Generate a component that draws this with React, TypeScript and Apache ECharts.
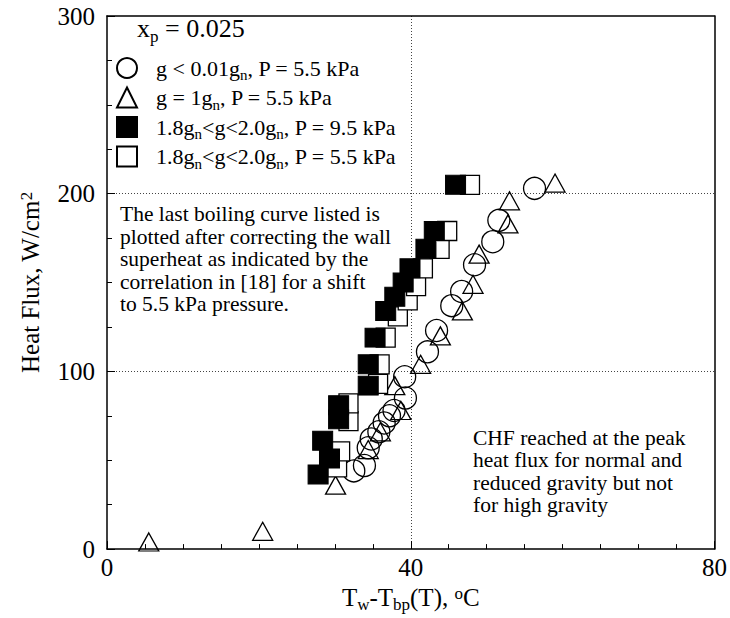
import React, { useEffect, useRef } from 'react';
import * as echarts from 'echarts';

const FONT = '"Liberation Serif", "Times New Roman", serif';

// Reduced gravity (g < 0.01 g_n), P = 5.5 kPa
const circles: [number, number][] = [
  [32.5, 44], [33.9, 47], [34.4, 57], [34.8, 62], [35.8, 66], [36.5, 71], [37.2, 75],
  [37.8, 78], [39.3, 85], [39.2, 97], [42.2, 111], [43.4, 123], [45.4, 137], [46.7, 145],
  [48.4, 160], [50.8, 173], [51.6, 185], [56.3, 203],
];
// Normal gravity (g = 1 g_n), P = 5.5 kPa
const triangles: [number, number][] = [
  [5.5, 4], [20.5, 10], [30.1, 36], [34.4, 56], [36.0, 66], [38.7, 78], [37.9, 92],
  [41.3, 104], [43.9, 120], [46.8, 134], [48.2, 149], [49.0, 166], [52.8, 183], [53.0, 196],
  [59.0, 206],
];
// High gravity, P = 9.5 kPa
const filledSquares: [number, number][] = [
  [27.8, 42], [29.3, 51], [28.4, 61], [30.5, 73], [30.5, 81], [34.4, 92], [34.4, 104],
  [35.3, 119], [36.7, 134], [37.9, 142], [39.0, 150], [39.9, 158], [42.0, 169], [43.1, 179],
  [45.9, 205],
];
// High gravity, corrected to P = 5.5 kPa
const openSquares: [number, number][] = [
  [30.3, 46], [30.7, 55], [31.8, 72], [31.8, 82], [35.7, 93], [35.9, 104], [36.7, 119],
  [38.3, 131], [39.6, 140], [40.7, 148], [41.6, 158], [43.8, 169], [44.8, 179], [47.8, 205],
];

const xRange = [0, 80];
const xStep = 40;
const yRange = [0, 300];
const yStep = 100;

const legendLabels: Record<string, string> = {
  c: '{g| }{n|g < 0.01g}{s|n}{n|, P = 5.5 kPa}',
  t: '{g| }{n|g = 1g}{s|n}{n|, P = 5.5 kPa}',
  f: '{g| }{n|1.8g}{s|n}{n|<g<2.0g}{s|n}{n|, P = 9.5 kPa}',
  o: '{g| }{n|1.8g}{s|n}{n|<g<2.0g}{s|n}{n|, P = 5.5 kPa}',
};

const note1 = [
  'The last boiling curve listed is',
  'plotted after correcting the wall',
  'superheat as indicated by the',
  'correlation in [18] for a shift',
  'to 5.5 kPa pressure.',
];
const note2 = [
  'CHF reached at the peak',
  'heat flux for normal and',
  'reduced gravity but not',
  'for high gravity',
];

const richText = (size: number, lh: number, drop: number) => {
  const small = Math.round(size * 0.66);
  return {
    g: { width: 14, fontSize: size },
    n: { fontFamily: FONT, fontSize: size, color: '#000', lineHeight: lh, verticalAlign: 'top' },
    s: {
      fontFamily: FONT, fontSize: small, color: '#000', lineHeight: small,
      verticalAlign: 'top', padding: [lh / 2 - small / 2 + drop, 0, 0, 0],
    },
    p: {
      fontFamily: FONT, fontSize: small, color: '#000', lineHeight: small,
      verticalAlign: 'top', padding: [0, 0, 0, 0],
    },
  };
};

const axisLineStyle = { color: '#000', width: 1.5 };
const gridLineStyle = { color: '#444', width: 1, type: [1, 2] as number[] };

export default function App() {
  const ref = useRef<HTMLDivElement>(null);
  useEffect(() => {
    document.body.style.margin = '0';
    const chart = echarts.init(ref.current!, null, { renderer: 'svg' });
    const option: any = {
      animation: false,
      backgroundColor: '#fff',
      grid: { left: 107, right: 13, top: 16, bottom: 67 },
      xAxis: [
        {
          type: 'value', min: xRange[0], max: xRange[1], interval: xStep, position: 'bottom',
          axisLine: { show: true, onZero: false, lineStyle: axisLineStyle },
          axisTick: { show: true, inside: true, length: 8, lineStyle: { color: '#000', width: 1 } },
          minorTick: { show: true, splitNumber: 8, length: 5, lineStyle: { color: '#000', width: 1 } },
          splitLine: { show: true, showMinLine: false, showMaxLine: false, lineStyle: gridLineStyle },
          axisLabel: { color: '#000', fontFamily: FONT, fontSize: 25, margin: 6 },
          name: '{n|T}{s|w}{n|-T}{s|bp}{n|(T), }{p|o}{n|C}',
          nameLocation: 'middle', nameGap: 33,
          nameTextStyle: { rich: richText(25, 25, 7) },
        },
        {
          type: 'value', min: xRange[0], max: xRange[1], interval: xStep, position: 'top',
          axisLine: { show: true, onZero: false, lineStyle: axisLineStyle },
          axisTick: { show: false }, axisLabel: { show: false }, splitLine: { show: false },
        },
      ],
      yAxis: [
        {
          type: 'value', min: yRange[0], max: yRange[1], interval: yStep, position: 'left',
          axisLine: { show: true, onZero: false, lineStyle: axisLineStyle },
          axisTick: { show: true, inside: true, length: 8, lineStyle: { color: '#000', width: 1 } },
          minorTick: { show: true, splitNumber: 4, length: 5, lineStyle: { color: '#000', width: 1 } },
          splitLine: { show: true, showMinLine: false, showMaxLine: false, lineStyle: gridLineStyle },
          axisLabel: { color: '#000', fontFamily: FONT, fontSize: 25, margin: 12 },
          name: '{n|Heat Flux, W/cm}{p|2}',
          nameLocation: 'middle', nameGap: 64, nameRotate: 90,
          nameTextStyle: { rich: richText(25, 25, 7) },
        },
        {
          type: 'value', min: yRange[0], max: yRange[1], interval: yStep, position: 'right',
          axisLine: { show: true, onZero: false, lineStyle: axisLineStyle },
          axisTick: { show: false }, axisLabel: { show: false }, splitLine: { show: false },
        },
      ],
      legend: {
        show: true, orient: 'vertical', left: 111, top: 52,
        itemWidth: 20, itemHeight: 20, itemGap: 4, selectedMode: false,
        data: ['c', 't', 'f', 'o'],
        formatter: (name: string) => legendLabels[name],
        textStyle: { rich: richText(22, 22, 7) },
      },
      graphic: [
        {
          type: 'text', left: 137, top: 15,
          style: { text: '{n|x}{s|p}{n| = 0.025}', rich: richText(26, 26, 8) },
        },
        {
          type: 'text', left: 120, top: 203,
          style: { text: note1.join('\n'), font: `21.5px ${FONT}`, fill: '#000', lineHeight: 22.5 },
        },
        {
          type: 'text', left: 473, top: 427,
          style: { text: note2.join('\n'), font: `21.5px ${FONT}`, fill: '#000', lineHeight: 22.3 },
        },
      ],
      series: [
        {
          type: 'scatter', name: 't', data: triangles, symbol: 'triangle', symbolSize: [20, 18],
          itemStyle: { color: 'rgba(255,255,255,0)', borderColor: '#000', borderWidth: 1.3, opacity: 1 },
          z: 2,
        },
        {
          type: 'scatter', name: 'c', data: circles, symbol: 'circle', symbolSize: 22,
          itemStyle: { color: 'rgba(255,255,255,0)', borderColor: '#000', borderWidth: 1.3, opacity: 1 },
          z: 3,
        },
        {
          type: 'scatter', name: 'o', data: openSquares, symbol: 'rect', symbolSize: [19, 19],
          itemStyle: { color: '#fff', borderColor: '#000', borderWidth: 1.3, opacity: 1 },
          z: 4,
        },
        {
          type: 'scatter', name: 'f', data: filledSquares, symbol: 'rect', symbolSize: [20, 19],
          itemStyle: { color: '#000', borderColor: '#000', borderWidth: 1, opacity: 1 },
          z: 5,
        },
      ],
    };
    chart.setOption(option);
    return () => chart.dispose();
  }, []);
  return <div ref={ref} style={{ width: 730, height: 618 }} />;
}
